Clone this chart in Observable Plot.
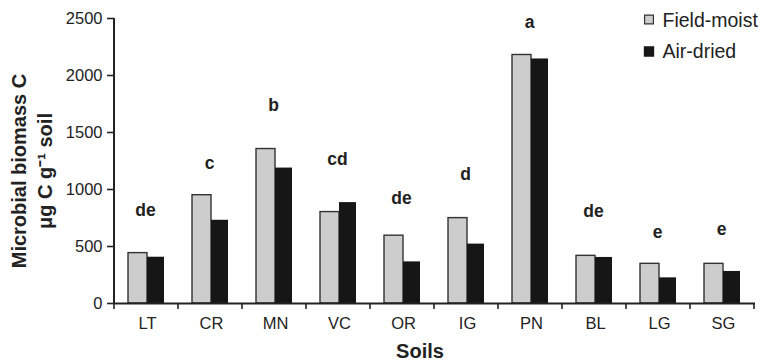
<!DOCTYPE html>
<html><head><meta charset="utf-8">
<script src="https://cdn.jsdelivr.net/npm/d3@7"></script>
<script src="https://cdn.jsdelivr.net/npm/@observablehq/plot@0.6"></script>
<style>
body{margin:0;background:#fff;}
#chart svg{font-family:"Liberation Sans",Arial,sans-serif;}
</style>
</head><body><div id="chart"></div>
<script>
const soils = ["LT","CR","MN","VC","OR","IG","PN","BL","LG","SG"];
const fieldMoist = [442,950,1355,802,595,749,2180,418,348,348];
const airDried = [406,730,1188,885,365,521,2145,404,225,281];
const letters = ["de","c","b","cd","de","d","a","de","e","e"];
const letterY = [819,1230,1740,1267,925,1135,2470,810,626,652];
const series = ["Field-moist","Air-dried"];
const yTicks = [0,500,1000,1500,2000,2500];

const fieldRows = soils.map((s,i)=>({soil:s, value:fieldMoist[i]}));
const airRows = soils.map((s,i)=>({soil:s, value:airDried[i]}));
const letterRows = soils.map((s,i)=>({soil:s, label:letters[i], y:letterY[i]}));

const plot = Plot.plot({
  width: 765, height: 363,
  marginLeft: 114, marginRight: 10, marginTop: 18, marginBottom: 60,
  style: {fontFamily: '"Liberation Sans", Arial, sans-serif', background: "#fff", color: "#222"},
  x: {domain: soils, padding: 0, label: null},
  y: {domain: [0, 2500], label: null},
  marks: [
    Plot.barY(fieldRows, {x: "soil", y: "value", fill: "#cdcdcd", stroke: "#333", strokeWidth: 1.4, insetLeft: 13, insetRight: 32}),
    Plot.barY(airRows, {x: "soil", y: "value", fill: "#161616", insetLeft: 32, insetRight: 15}),
    Plot.text(letterRows, {x: "soil", y: "y", text: "label", fontWeight: "bold", fontSize: 17.5, fill: "#222", dx: -2}),
    Plot.ruleY([0], {stroke: "#222", strokeWidth: 2}),
    Plot.axisY({ticks: yTicks, tickFormat: d3.format("d"), tickSize: 7, tickPadding: 5, fontSize: 16.5, stroke: "#222", strokeWidth: 1.6, label: null}),
    Plot.axisX({tickSize: 0, tickPadding: 14, fontSize: 16.5, label: null}),
    Plot.text(["Microbial biomass C\nμg C g⁻¹ soil"], {frameAnchor: "left", textAnchor: "middle", lineAnchor: "middle", rotate: -90, dx: -84, dy: 10, fontSize: 20, fontWeight: "bold", lineHeight: 1.3, fill: "#222"}),
    Plot.text(["Soils"], {frameAnchor: "bottom", lineAnchor: "middle", dx: -15, dy: 48, fontSize: 20, fontWeight: "bold", fill: "#222"}),
    Plot.dot([series[0]], {frameAnchor: "top-right", dx: -106.5, dy: 1, symbol: "square", r: 5, fill: "#cdcdcd", stroke: "#333", strokeWidth: 1.2}),
    Plot.dot([series[1]], {frameAnchor: "top-right", dx: -106.5, dy: 33, symbol: "square", r: 5, fill: "#161616", stroke: "#161616"}),
    Plot.text([series[0]], {frameAnchor: "top-right", dx: -93, dy: 2, textAnchor: "start", lineAnchor: "middle", fontSize: 19.5, fill: "#222"}),
    Plot.text([series[1]], {frameAnchor: "top-right", dx: -93, dy: 33, textAnchor: "start", lineAnchor: "middle", fontSize: 19.5, fill: "#222"})
  ]
});
document.getElementById("chart").appendChild(plot);

// Axis domain line and category boundary ticks, computed from Plot's scales
const xs = plot.scale("x"), ys = plot.scale("y");
const svg = d3.select(plot);
const x0 = xs.range[0];
svg.append("line").attr("x1", x0).attr("x2", x0)
  .attr("y1", ys.apply(0)).attr("y2", ys.apply(2500))
  .attr("stroke", "#222").attr("stroke-width", 2);
const bounds = d3.range(soils.length + 1).map(i => x0 + i * xs.step);
svg.selectAll("line.bt").data(bounds).join("line").attr("class", "bt")
  .attr("x1", d => d).attr("x2", d => d)
  .attr("y1", ys.apply(0)).attr("y2", ys.apply(0) + 6)
  .attr("stroke", "#222").attr("stroke-width", 1.6);
</script>
</body></html>
